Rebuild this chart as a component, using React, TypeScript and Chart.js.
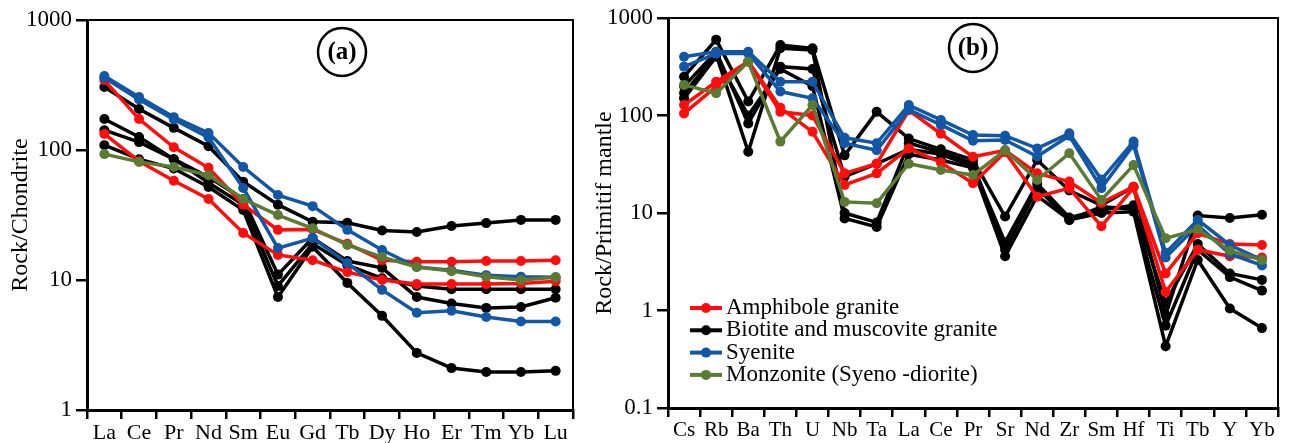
import React, { useEffect, useRef } from "react";
import { Chart, registerables } from "chart.js";
Chart.register(...registerables);

const FONT = '"Liberation Serif", "Times New Roman", serif';

// ---------- Panel (a): chondrite-normalised REE ----------
const reeElements = ["La", "Ce", "Pr", "Nd", "Sm", "Eu", "Gd", "Tb", "Dy", "Ho", "Er", "Tm", "Yb", "Lu"];
const reeAmph1 = [345, 173, 105, 73, 38, 24.3, 24.5, 19, 14.2, 13.8, 13.8, 14, 14, 14.2];
const reeAmph2 = [133, 82, 58, 42, 23, 15.6, 14.2, 11.5, 10, 9.3, 9.3, 9.3, 9.4, 9.8];
const reeBio1 = [305, 207, 148, 107, 57, 38, 28, 27.6, 24, 23.4, 26, 27.4, 29, 29];
const reeBio2 = [173, 126, 85, 62, 42, 11, 21, 14, 12.4, 7.4, 6.6, 6.1, 6.2, 7.3];
const reeBio3 = [142, 115, 85, 56, 38, 9, 19, 13, 10.3, 9.0, 8.5, 8.5, 8.5, 8.5];
const reeBio4 = [109, 85, 72, 52, 34.5, 7.4, 18, 9.5, 5.3, 2.75, 2.1, 1.96, 1.96, 2.0];
const reeSyen1 = [371, 256, 179, 135, 74, 45, 37, 24.3, 17, 12.6, 11.9, 10.9, 10.6, 10.5];
const reeSyen2 = [360, 245, 172, 125, 51, 17.6, 21, 13.5, 8.4, 5.6, 5.8, 5.2, 4.8, 4.8];
const reeMonz = [93, 81, 74, 64, 42, 31.6, 25, 18.6, 15, 12.6, 11.7, 10.6, 10, 10.5];
const reeYTicks = [1, 10, 100, 1000];

// ---------- Panel (b): primitive-mantle-normalised spider ----------
const spiderElements = ["Cs", "Rb", "Ba", "Th", "U", "Nb", "Ta", "La", "Ce", "Pr", "Sr", "Nd", "Zr", "Sm", "Hf", "Ti", "Tb", "Y", "Yb"];
const pmAmph1 = [128, 222, 356, 109, 100, 25.5, 32, 113, 65, 37.7, 44, 25.5, 21, 12.7, 18.6, 2.4, 6.2, 4.8, 4.7];
const pmAmph2 = [105, 198, 360, 120, 68, 19.4, 25.5, 46, 33, 20.2, 42, 14.7, 18, 7.3, 18.2, 1.55, 4.2, 3.6, 3.5];
const pmBio1 = [250, 600, 139, 528, 489, 39, 109, 58, 45, 35, 9.2, 35, 17, 12, 18.6, 0.9, 9.4, 8.9, 9.6];
const pmBio2 = [200, 450, 83, 317, 300, 23.6, 32, 45, 40, 30, 5, 20, 9, 10.7, 12, 1.2, 4.8, 2.4, 2.06];
const pmBio3 = [170, 420, 42.5, 490, 470, 10, 8, 52, 42, 32, 4.2, 18, 8.5, 11.6, 11, 0.7, 4.2, 2.2, 1.6];
const pmBio4 = [150, 400, 100, 300, 200, 8.8, 7.2, 40, 35, 29, 3.6, 15, 8.5, 10, 10.3, 0.43, 3.3, 1.05, 0.66];
const pmSyen1 = [400, 451, 451, 222, 222, 59, 52, 128, 90, 63, 62, 46, 65.6, 22, 54, 3.9, 8.5, 4.7, 3.3];
const pmSyen2 = [317, 430, 434, 176, 150, 52, 44, 115, 80, 55, 56, 38, 62, 18, 50, 3.5, 7.5, 3.8, 2.9];
const pmMonz = [206, 169, 356, 54, 128, 13, 12.6, 32, 27.6, 24.5, 44, 21.8, 41, 13.6, 31, 5.5, 6.8, 4.1, 3.3];
const pmYTicks = [0.1, 1, 10, 100, 1000];

// ---------- groups ----------
const groupNames = ["Amphibole granite", "Biotite and muscovite granite", "Syenite", "Monzonite (Syeno -diorite)"];
const groupColors = ["#ff0d0d", "#000000", "#1257a6", "#5b7a33"];

function lineDs(data: number[], color: string) {
  return {
    data,
    borderColor: color,
    backgroundColor: color,
    borderWidth: 3.5,
    pointRadius: 5,
    pointBorderWidth: 0,
    pointBackgroundColor: color,
    tension: 0,
    fill: false,
  };
}

const overlayPlugin = {
  id: "overlay",
  afterDraw(chart: any, _args: any, o: any) {
    const { ctx, chartArea: a } = chart;
    ctx.save();
    ctx.strokeStyle = "#000";
    ctx.lineWidth = 2;
    ctx.beginPath();
    ctx.moveTo(a.left, a.top);
    ctx.lineTo(a.right, a.top);
    ctx.lineTo(a.right, a.bottom);
    ctx.stroke();
    if (o.label) {
      const cx = a.left + o.labelDx;
      const cy = a.top + o.labelDy;
      ctx.lineWidth = 2.5;
      ctx.beginPath();
      ctx.arc(cx, cy, 24, 0, Math.PI * 2);
      ctx.stroke();
      ctx.fillStyle = "#000";
      ctx.font = `bold 25px ${FONT}`;
      ctx.textAlign = "center";
      ctx.textBaseline = "middle";
      ctx.fillText(o.label, cx, cy + 1);
    }
    if (o.legend) {
      const x0 = a.left + o.legendDx;
      for (let i = 0; i < groupNames.length; i++) {
        const y = a.top + o.legendDy + i * o.legendGap;
        ctx.strokeStyle = groupColors[i];
        ctx.fillStyle = groupColors[i];
        ctx.lineWidth = 4;
        ctx.beginPath();
        ctx.moveTo(x0, y);
        ctx.lineTo(x0 + 32, y);
        ctx.stroke();
        ctx.beginPath();
        ctx.arc(x0 + 16, y, 5, 0, Math.PI * 2);
        ctx.fill();
        ctx.fillStyle = "#000";
        ctx.font = `23px ${FONT}`;
        ctx.textAlign = "left";
        ctx.textBaseline = "middle";
        ctx.fillText(groupNames[i], x0 + 36, y);
      }
    }
    ctx.restore();
  },
};

function buildConfig(p: any) {
  return {
    type: "line",
    data: {
      labels: p.labels,
      datasets: p.datasets,
    },
    plugins: [overlayPlugin],
    options: {
      responsive: false,
      animation: false,
      layout: { padding: { left: 0, top: p.padTop, right: p.padRight, bottom: 0 } },
      plugins: {
        legend: { display: false },
        tooltip: { enabled: false },
        overlay: p.overlay,
      },
      scales: {
        x: {
          type: "category",
          offset: true,
          grid: { offset: true, drawOnChartArea: false, tickLength: 9, color: "#000", lineWidth: 2.5 },
          border: { color: "#000", width: 3 },
          ticks: { color: "#000", font: { size: p.xFont, family: FONT }, padding: 1, maxRotation: 0, autoSkip: false },
          afterFit: (s: any) => {
            s.height = p.xHeight;
          },
        },
        y: {
          type: "logarithmic",
          min: p.yTicks[0],
          max: p.yTicks[p.yTicks.length - 1],
          afterBuildTicks: (s: any) => {
            s.ticks = p.yTicks.map((v: number) => ({ value: v }));
          },
          afterFit: (s: any) => {
            s.width = p.yWidth;
          },
          grid: { drawOnChartArea: false, tickLength: 11, color: "#000", lineWidth: 2.5 },
          border: { color: "#000", width: 3 },
          ticks: {
            color: "#000",
            font: { size: 23, family: FONT },
            padding: 4,
            callback: (v: any) => String(v),
          },
          title: {
            display: true,
            text: p.yTitle,
            color: "#000",
            font: { size: 24, family: FONT },
            padding: { top: p.titlePad, bottom: 0 },
          },
        },
      },
    },
  };
}

function Panel(props: { width: number; left: number; cfg: any }) {
  const ref = useRef<HTMLCanvasElement>(null);
  useEffect(() => {
    const chart = new Chart(ref.current as HTMLCanvasElement, props.cfg);
    return () => chart.destroy();
  }, []);
  return (
    <canvas
      ref={ref}
      width={props.width}
      height={443}
      style={{ position: "absolute", left: props.left, top: 0, width: props.width, height: 443, display: "block" }}
    />
  );
}

export default function App() {
  useEffect(() => {
    document.body.style.margin = "0";
  }, []);

  const [red, black, blue, green] = groupColors;

  const cfgA = buildConfig({
    labels: reeElements,
    datasets: [
      lineDs(reeMonz, green),
      lineDs(reeSyen1, blue),
      lineDs(reeSyen2, blue),
      lineDs(reeAmph1, red),
      lineDs(reeAmph2, red),
      lineDs(reeBio1, black),
      lineDs(reeBio2, black),
      lineDs(reeBio3, black),
      lineDs(reeBio4, black),
    ],
    yTicks: reeYTicks,
    yTitle: "Rock/Chondrite",
    titlePad: 6,
    yWidth: 87,
    xHeight: 33,
    xFont: 22,
    padTop: 20,
    padRight: 17,
    overlay: { label: "(a)", labelDx: 255, labelDy: 32 },
  });

  const cfgB = buildConfig({
    labels: spiderElements,
    datasets: [
      lineDs(pmMonz, green),
      lineDs(pmSyen1, blue),
      lineDs(pmSyen2, blue),
      lineDs(pmAmph1, red),
      lineDs(pmAmph2, red),
      lineDs(pmBio1, black),
      lineDs(pmBio2, black),
      lineDs(pmBio3, black),
      lineDs(pmBio4, black),
    ],
    yTicks: pmYTicks,
    yTitle: "Rock/Primitif mantle",
    titlePad: 0,
    yWidth: 78,
    xHeight: 35,
    xFont: 21,
    padTop: 18,
    padRight: 11,
    overlay: { label: "(b)", labelDx: 305, labelDy: 30, legend: true, legendDx: 22, legendDy: 290, legendGap: 22.3 },
  });

  return (
    <div style={{ position: "relative", width: 1289, height: 443, background: "#fff" }}>
      <Panel width={590} left={0} cfg={cfgA} />
      <Panel width={699} left={590} cfg={cfgB} />
    </div>
  );
}
